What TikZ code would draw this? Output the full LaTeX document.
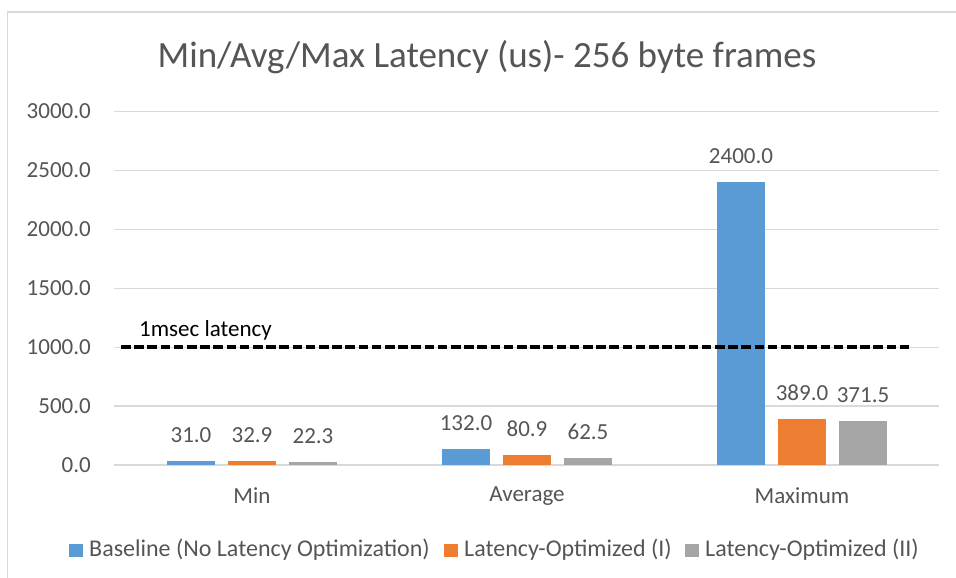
\documentclass[tikz,border=0pt]{standalone}
\usepackage{fontspec}
\setmainfont{Carlito}
\definecolor{txtgray}{HTML}{555555}
\definecolor{gridgray}{HTML}{D9D9D9}
\definecolor{serA}{HTML}{5B9BD5}
\definecolor{serB}{HTML}{ED7D31}
\definecolor{serC}{HTML}{A5A5A5}
\begin{document}
\begin{tikzpicture}[x=1pt,y=-1pt,
  gridline/.style={gridgray,line width=1.3pt},
  axislabel/.style={anchor=east,text=txtgray,font=\fontsize{23}{27}\selectfont,inner sep=0pt},
  catlabel/.style={text=txtgray,font=\fontsize{23}{27}\selectfont,inner sep=0pt},
  vallabel/.style={anchor=base,text=txtgray,font=\fontsize{23}{27}\selectfont,inner sep=0pt},
  legtext/.style={anchor=west,text=txtgray,font=\fontsize{24}{28}\selectfont,inner sep=0pt},
  legkey/.style={minimum width=14pt,minimum height=13pt,inner sep=0pt},
  threshold/.style={black,line width=3.5pt,dash pattern=on 9.5pt off 3.7pt}]
\useasboundingbox (0,0) rectangle (956,578);
\fill[white] (0,0) rectangle (956,578);
% chart frame
\draw[gridgray,line width=1.3pt] (7.5,578) -- (7.5,12) -- (956,12);
% title
\node[text=txtgray,font=\fontsize{37}{42}\selectfont,inner sep=0pt] (title) at (487,57) {Min/Avg/Max Latency (us)- 256 byte frames};
% horizontal grid and value axis
\foreach \v in {0,500,...,3000}{
  \draw[gridline] (114,{465-\v*0.1178}) -- (939,{465-\v*0.1178});
  \node[axislabel] (ax\v) at (91,{465-\v*0.1178}) {\v.0};
}
% bars with their value labels
\foreach \cx/\val/\col/\nm in {
  191/31.0/serA/a1, 252/32.9/serB/b1, 313/22.3/serC/c1,
  466/132.0/serA/a2, 527/80.9/serB/b2, 588/62.5/serC/c2,
  741/2400.0/serA/a3, 802/389.0/serB/b3, 863/371.5/serC/c3}{
  \fill[\col] ({\cx-24},465) rectangle ({\cx+24},{465-\val*0.1178});
  \node[vallabel] (v\nm) at (\cx,{465-\val*0.1178-18.5}) {\val};
}
% category labels
\node[catlabel] (catmin) at (252,496) {Min};
\node[catlabel] (catavg) at (527,496) {Average};
\node[catlabel] (catmax) at (802,496) {Maximum};
% 1 ms threshold
\coordinate (thrL) at (121,347);
\coordinate (thrR) at (910,347);
\draw[threshold] (thrL) -- (thrR);
\node[anchor=base west,inner sep=0pt,font=\fontsize{23}{27}\selectfont] (thrlabel) at (139,336) {1msec latency};
% legend
\node[legkey,fill=serA] (keyA) at (76,550.5) {};
\node[legtext] (legA) at (89,550) {Baseline (No Latency Optimization)};
\node[legkey,fill=serB] (keyB) at (451,550.5) {};
\node[legtext] (legB) at (464,550) {Latency-Optimized (I)};
\node[legkey,fill=serC] (keyC) at (692,550.5) {};
\node[legtext] (legC) at (705,550) {Latency-Optimized (II)};
\end{tikzpicture}
\end{document}
